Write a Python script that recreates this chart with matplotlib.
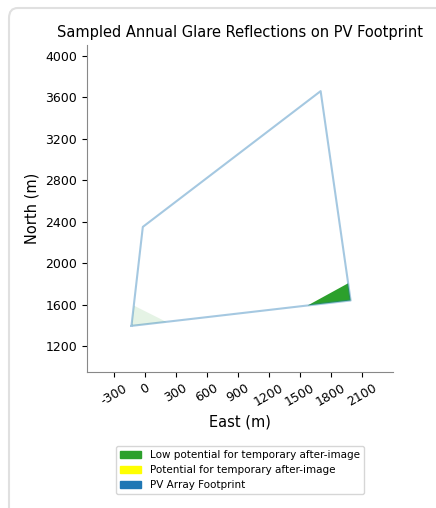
import numpy as np
import matplotlib
matplotlib.use("Agg")
import matplotlib.pyplot as plt
import matplotlib.patches as mpatches

plt.rcParams["axes.unicode_minus"] = False

# PV footprint corners (East, North) in metres
footprint_east = [-130, -20, 1700, 1990, -130]
footprint_north = [1395, 2350, 3660, 1640, 1395]

# glare patches on the footprint
low_glare_east = [1575, 1966, 1990]
low_glare_north = [1592, 1806, 1640]
faint_glare_east = [-130, -105, 210]
faint_glare_north = [1395, 1590, 1432]

x_ticks = [-300, 0, 300, 600, 900, 1200, 1500, 1800, 2100]
y_ticks = [1200, 1600, 2000, 2400, 2800, 3200, 3600, 4000]

legend_labels = ["Low potential for temporary after-image",
                 "Potential for temporary after-image",
                 "PV Array Footprint"]
legend_colors = ["#2ca02c", "yellow", "#1f77b4"]

fig = plt.figure(figsize=(4.36, 5.08), dpi=100)

# card border like the screenshot
card = mpatches.FancyBboxPatch((9 / 436, -0.2), 1.2, 1.2 - 8 / 508,
                               boxstyle="round,pad=0,rounding_size=0.02",
                               transform=fig.transFigure, facecolor="none",
                               edgecolor="#e0e0e0", linewidth=1.5)
fig.patches.append(card)

ax = fig.add_axes([87 / 436, 1 - 372 / 508, 306 / 436, 327 / 508])

ax.plot(footprint_east, footprint_north, color="#1f77b4", alpha=0.4,
        linewidth=1.5)
ax.fill(faint_glare_east, faint_glare_north, color="#2ca02c", alpha=0.12,
        linewidth=0)
ax.fill(low_glare_east, low_glare_north, color="#2ca02c", linewidth=0)

ax.set_xlim(-560, 2400)
ax.set_ylim(950, 4105)
ax.set_xticks(x_ticks)
ax.set_yticks(y_ticks)
ax.tick_params(axis="x", labelrotation=30, labelsize=9)
ax.tick_params(axis="y", labelsize=9)
for lbl in ax.get_xticklabels():
    lbl.set_ha("center")

for side in ["top", "right"]:
    ax.spines[side].set_visible(False)
for side in ["left", "bottom"]:
    ax.spines[side].set_color("#888888")

ax.set_title("Sampled Annual Glare Reflections on PV Footprint", fontsize=10.5)
ax.set_xlabel("East (m)", fontsize=10.5)
ax.set_ylabel("North (m)", fontsize=10.5)

handles = [mpatches.Patch(color=c, label=l)
           for c, l in zip(legend_colors, legend_labels)]
fig.legend(handles=handles, loc="center", bbox_to_anchor=(240 / 436, 1 - 470 / 508),
           fontsize=7.5, frameon=True)

fig.savefig("out.png", dpi=100)
